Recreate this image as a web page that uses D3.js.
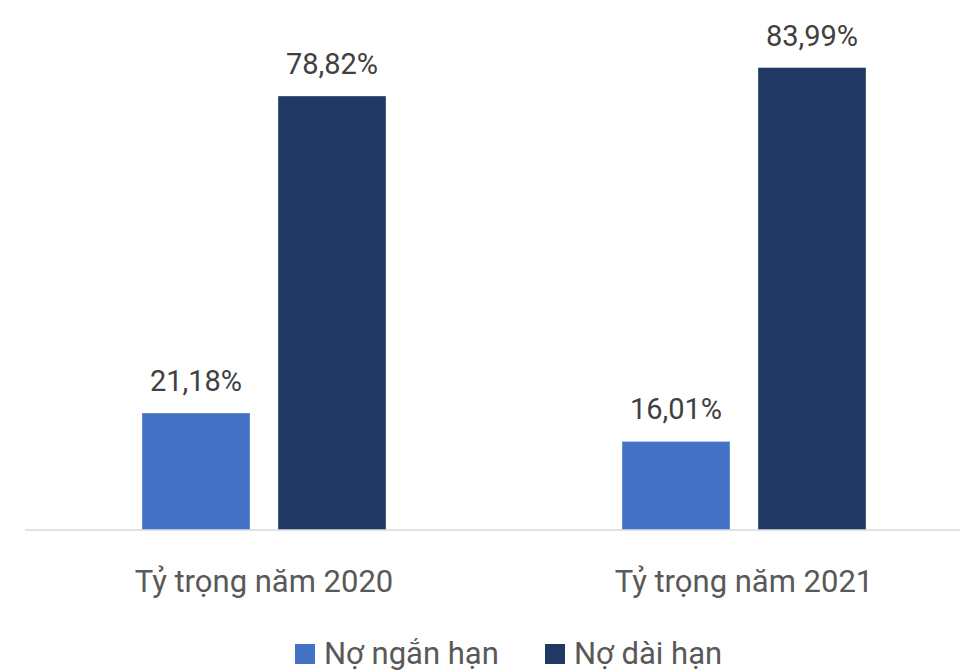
<!DOCTYPE html>
<html>
<head>
<meta charset="utf-8">
<script src="https://cdn.jsdelivr.net/npm/d3@7"></script>
<style>
  body { margin: 0; background: #fff; }
  svg { display: block; font-family: Roboto, "Noto Sans", sans-serif; }
</style>
</head>
<body>
<svg id="chart" width="960" height="671"></svg>
<script>
// data
var categories = ['Tỷ trọng năm 2020', 'Tỷ trọng năm 2021'];
var seriesNames = ['Nợ ngắn hạn', 'Nợ dài hạn'];
var shortTerm = [21.18, 16.01];
var longTerm = [78.82, 83.99];
var colors = ['#4472C4', '#203864'];

var svg = d3.select('#chart');

var baseY = 529.5;
var pxPerUnit = 5.5;

/*
 * Scales
 */
var x0 = d3.scaleBand()
  .domain(categories)
  .range([24, 984]);

var x1 = d3.scaleBand()
  .domain(seriesNames)
  .range([118, 362])
  .paddingInner(28 / 136);

var y = d3.scaleLinear()
  .domain([0, 90])
  .range([baseY, baseY - 90 * pxPerUnit]);

var rows = categories.map(function(c, i) {
  return { category: c, values: [shortTerm[i], longTerm[i]] };
});

// baseline
svg.append('line')
  .attr('x1', 25)
  .attr('x2', 960)
  .attr('y1', baseY + 0.5)
  .attr('y2', baseY + 0.5)
  .attr('stroke', '#d9d9d9')
  .attr('stroke-width', 1.5);

var group = svg.selectAll('.group')
  .data(rows)
  .enter().append('g')
  .attr('class', 'group')
  .attr('transform', function(d) { return 'translate(' + x0(d.category) + ',0)'; });

var bars = group.selectAll('.bar')
  .data(function(d) {
    return d.values.map(function(v, i) { return { key: seriesNames[i], value: v, idx: i }; });
  })
  .enter();

bars.append('rect')
  .attr('class', 'bar')
  .attr('x', function(d) { return x1(d.key); })
  .attr('y', function(d) { return y(d.value); })
  .attr('width', x1.bandwidth())
  .attr('height', function(d) { return baseY - y(d.value); })
  .attr('fill', function(d) { return colors[d.idx]; })
  .attr('stroke', 'rgba(255,255,255,0.35)')
  .attr('stroke-width', 1);

bars.append('text')
  .attr('x', function(d) { return x1(d.key) + x1.bandwidth() / 2; })
  .attr('y', function(d) { return y(d.value) - 22; })
  .attr('text-anchor', 'middle')
  .attr('font-size', 29)
  .attr('fill', '#404040')
  .text(function(d) { return d.value.toFixed(2).replace('.', ',') + '%'; });

// category labels
svg.selectAll('.cat')
  .data(categories)
  .enter().append('text')
  .attr('class', 'cat')
  .attr('x', function(d) { return x0(d) + x0.bandwidth() / 2; })
  .attr('y', 592)
  .attr('text-anchor', 'middle')
  .attr('font-size', 31)
  .attr('fill', '#595959')
  .text(function(d) { return d; });

// legend (shifted up slightly so descenders stay inside the picture)
var legendX = [295, 545];
var legend = svg.selectAll('.legend')
  .data(seriesNames)
  .enter().append('g')
  .attr('class', 'legend')
  .attr('transform', function(d, i) { return 'translate(' + legendX[i] + ',644)'; });

legend.append('rect')
  .attr('width', 20)
  .attr('height', 20)
  .attr('fill', function(d, i) { return colors[i]; });

legend.append('text')
  .attr('x', 29)
  .attr('y', 20)
  .attr('font-size', 31)
  .attr('fill', '#595959')
  .text(function(d) { return d; });
</script>
</body>
</html>
